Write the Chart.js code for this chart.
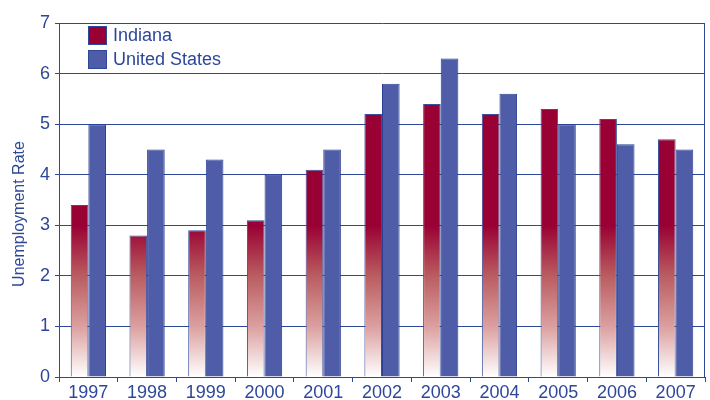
<!DOCTYPE html>
<html lang="en">
<head>
    <meta charset="UTF-8">
    <title>Unemployment Rate</title>
    <script src="https://cdn.jsdelivr.net/npm/chart.js"></script>
    <style>
        body { margin: 0; background: #fff; }
        #wrap { width: 710px; height: 400px; }
    </style>
</head>
<body>
    <div id="wrap"><canvas id="chart" width="710" height="400"></canvas></div>

    <script>
        // data
        const years = ['1997', '1998', '1999', '2000', '2001', '2002', '2003', '2004', '2005', '2006', '2007'];
        const indiana = [3.4, 2.8, 2.9, 3.1, 4.1, 5.2, 5.4, 5.2, 5.3, 5.1, 4.7];
        const unitedStates = [5.0, 4.5, 4.3, 4.0, 4.5, 5.8, 6.3, 5.6, 5.0, 4.6, 4.5];
        const yTicks = [0, 1, 2, 3, 4, 5, 6, 7];

        const blue = '#2d4799';
        const barBlue = '#4f5da8';
        const red = '#990033';
        const font = "'Liberation Sans', Arial, sans-serif";

        // red fades to white from value 3 down to 0 (fixed in screen space)
        function indianaFill(ctx) {
            const chart = ctx.chart;
            const y = chart.scales.y;
            if (!chart.chartArea || !y) return red;
            const top = y.getPixelForValue(3);
            const bottom = y.getPixelForValue(0);
            if (!isFinite(top) || !isFinite(bottom) || top === bottom) return red;
            const g = chart.ctx.createLinearGradient(0, top, 0, bottom);
            g.addColorStop(0, red);
            g.addColorStop(0.33, '#b95c60');
            g.addColorStop(0.67, '#dca0a0');
            g.addColorStop(1, '#ffffff');
            return g;
        }

        // legend drawn inside the plot, top left, plus the y title
        const extras = {
            id: 'extras',
            afterDraw(chart) {
                const c = chart.ctx;
                const items = [
                    { text: 'Indiana', fill: red },
                    { text: 'United States', fill: barBlue }
                ];
                c.save();
                c.font = '18px ' + font;
                c.textBaseline = 'middle';
                items.forEach((it, i) => {
                    const top = 26 + i * 24;
                    c.fillStyle = it.fill;
                    c.fillRect(88, top, 18, 18);
                    c.strokeStyle = blue;
                    c.lineWidth = 1;
                    c.strokeRect(88.5, top + 0.5, 18, 18);
                    c.fillStyle = blue;
                    c.fillText(it.text, 113, top + 10);
                });

                c.translate(20, 214);
                c.rotate(-Math.PI / 2);
                c.font = '16px ' + font;
                c.textAlign = 'center';
                c.fillText('Unemployment Rate', 0, 0);
                c.restore();
            }
        };

        // right border of the plot box
        const frame = {
            id: 'frame',
            afterDatasetsDraw(chart) {
                const a = chart.chartArea;
                const c = chart.ctx;
                c.save();
                c.strokeStyle = blue;
                c.lineWidth = 1;
                c.beginPath();
                c.moveTo(Math.round(a.right) - 0.5, a.top);
                c.lineTo(Math.round(a.right) - 0.5, a.bottom);
                c.stroke();
                c.restore();
            }
        };

        const chart = new Chart(document.getElementById('chart'), {
            type: 'bar',
            data: {
                labels: years,
                datasets: [
                    {
                        label: 'Indiana',
                        data: indiana,
                        backgroundColor: indianaFill,
                        borderColor: '#3a4f9c',
                        borderWidth: 1
                    },
                    {
                        label: 'United States',
                        data: unitedStates,
                        backgroundColor: barBlue,
                        borderColor: '#2b3f90',
                        borderWidth: 1
                    }
                ]
            },
            options: {
                responsive: false,
                animation: false,
                layout: { padding: { top: 23, right: 5, left: 0, bottom: 0 } },
                datasets: {
                    bar: { categoryPercentage: 0.6, barPercentage: 1.0 }
                },
                plugins: {
                    legend: { display: false },
                    tooltip: { enabled: false }
                },
                scales: {
                    x: {
                        grid: {
                            offset: true,
                            drawOnChartArea: false,
                            color: blue,
                            tickLength: 5
                        },
                        border: { color: blue, width: 1 },
                        ticks: {
                            color: blue,
                            font: { family: font, size: 18 },
                            padding: 0,
                            maxRotation: 0
                        },
                        afterFit(scale) { scale.height = 23; }
                    },
                    y: {
                        min: 0,
                        max: 7,
                        afterBuildTicks(scale) { scale.ticks = yTicks.map(v => ({ value: v })); },
                        grid: { color: blue, lineWidth: 1, tickLength: 4 },
                        border: { color: blue, width: 1 },
                        ticks: {
                            color: blue,
                            font: { family: font, size: 18 },
                            padding: 5
                        },
                        afterFit(scale) { scale.width = 59; }
                    }
                }
            },
            plugins: [extras, frame]
        });
    </script>
</body>
</html>
